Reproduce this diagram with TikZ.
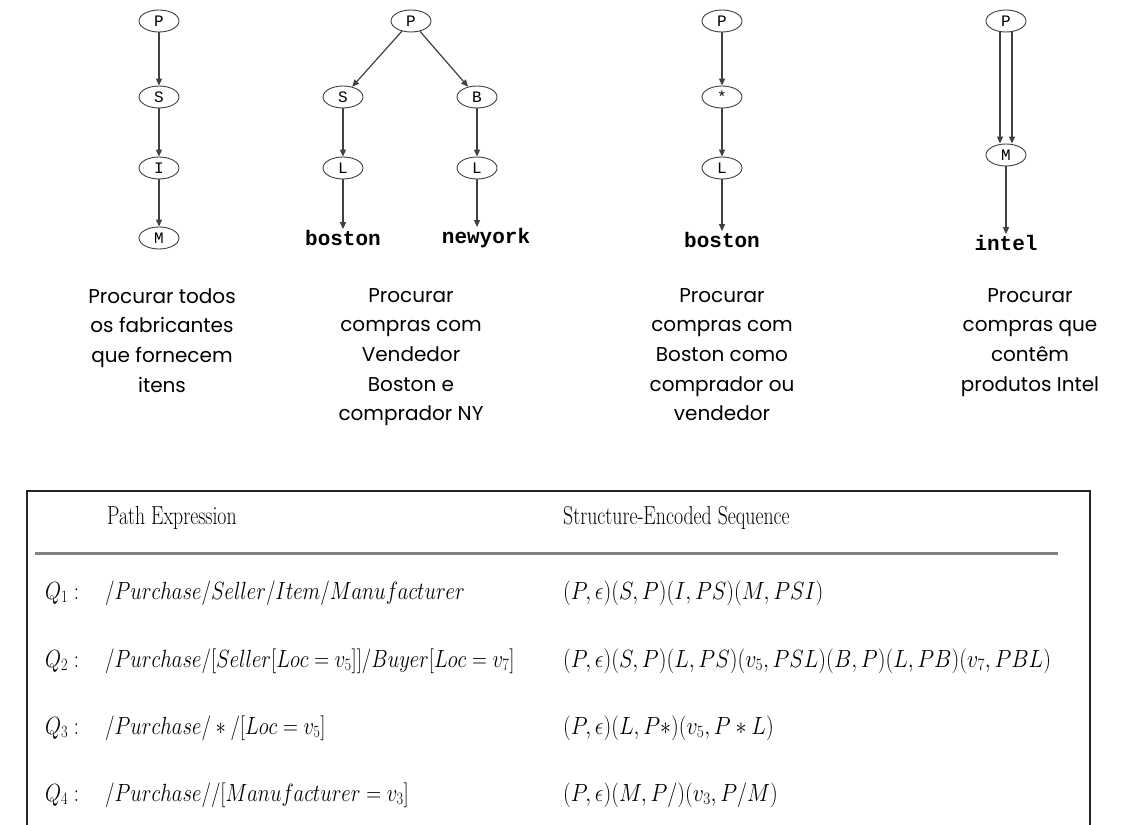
\documentclass[tikz,border=0pt]{standalone}
\usepackage{fontspec}
\usepackage{graphicx}
\usetikzlibrary{shapes.geometric,arrows.meta}
\newfontfamily\treefont{Liberation Mono}
\newfontfamily\capfont{Poppins}
\newcommand\headtext[1]{\scalebox{0.76}[1]{#1}}
\newcommand\pathtext[1]{\scalebox{0.83}[1]{#1}}
\newcommand\seqtext[1]{\scalebox{0.88}[1]{#1}}
\begin{document}
\begin{tikzpicture}[x=1pt,y=-1pt,
  vtx/.style={draw=black!75, line width=0.9pt, ellipse, minimum width=40pt,
    minimum height=22pt, inner sep=0pt, font=\treefont\fontsize{16}{16}\selectfont},
  leaf/.style={inner sep=1pt, font=\treefont\bfseries\fontsize{21}{21}\selectfont},
  edge/.style={draw=black!75, line width=1.2pt, -{Triangle[length=7pt,width=6pt]}},
  caption/.style={align=center, anchor=north, inner sep=0pt,
    font=\capfont\fontsize{20}{29.7}\selectfont},
  tab/.style={anchor=west, inner sep=0pt, font=\fontsize{26}{30}\selectfont}]
\useasboundingbox[fill=white] (0,0) rectangle (1126,824);

% query tree 1: P / S / I / M
\node[vtx] (a1) at (159,21) {P};
\node[vtx] (a2) at (159,97) {S};
\node[vtx] (a3) at (159,168) {I};
\node[vtx] (a4) at (159,238) {M};
\draw[edge] (a1) -- (a2);
\draw[edge] (a2) -- (a3);
\draw[edge] (a3) -- (a4);

% query tree 2: seller and buyer branches
\node[vtx] (b1) at (411,21) {P};
\node[vtx] (b2) at (343,97) {S};
\node[vtx] (b3) at (477,97) {B};
\node[vtx] (b4) at (343,168) {L};
\node[vtx] (b5) at (477,168) {L};
\node[leaf] (b6) at (343,238) {boston};
\node[leaf] (b7) at (486,238) {newyork};
\draw[edge] (b1) -- (b2);
\draw[edge] (b1) -- (b3);
\draw[edge] (b2) -- (b4);
\draw[edge] (b3) -- (b5);
\draw[edge] (b4) -- (b4 |- b6.north);
\draw[edge] (b5) -- (b5 |- b7.north);

% query tree 3: wildcard step
\node[vtx] (c1) at (722,21) {P};
\node[vtx] (c2) at (722,97) {*};
\node[vtx] (c3) at (722,168) {L};
\node[leaf] (c4) at (722,240) {boston};
\draw[edge] (c1) -- (c2);
\draw[edge] (c2) -- (c3);
\draw[edge] (c3) -- (c4);

% query tree 4: descendant axis drawn as a double arrow
\node[vtx] (d1) at (1006,21) {P};
\node[vtx] (d2) at (1006,155) {M};
\node[leaf] (d3) at (1006,243) {intel};
\draw[edge] ([xshift=-6pt]d1.south) -- ([xshift=-6pt]d2.north);
\draw[edge] ([xshift=6pt]d1.south) -- ([xshift=6pt]d2.north);
\draw[edge] (d2) -- (d3);

% descriptions
\node[caption] (t1) at (162,288) {Procurar todos\\os fabricantes\\que fornecem\\itens};
\node[caption] (t2) at (411,288) {Procurar\\compras com\\Vendedor\\Boston e\\comprador NY};
\node[caption] (t3) at (722,288) {Procurar\\compras com\\Boston como\\comprador ou\\vendedor};
\node[caption] (t4) at (1030,288) {Procurar\\compras que\\contêm\\produtos Intel};

% table frame and header rule
\draw[line width=1.8pt, black!85] (27,830) -- (27,491) -- (1090,491) -- (1090,830);
\draw[line width=3pt, black!50] (35,553) -- (1058,553);

\node[tab] (h1) at (107,518) {\headtext{Path Expression}};
\node[tab] (h2) at (563,518) {\headtext{Structure-Encoded Sequence}};

\node[tab] (q1) at (45,593) {\pathtext{$Q_1:$}};
\node[tab] (p1) at (105,593) {\pathtext{$/Purchase/Seller/Item/Manufacturer$}};
\node[tab] (s1) at (563,593) {\seqtext{$(P,\epsilon)(S,P)(I,PS)(M,PSI)$}};

\node[tab] (q2) at (45,661) {\pathtext{$Q_2:$}};
\node[tab] (p2) at (105,661) {\pathtext{$/Purchase/[Seller[Loc=v_5]]/Buyer[Loc=v_7]$}};
\node[tab] (s2) at (563,661) {\seqtext{$(P,\epsilon)(S,P)(L,PS)(v_5,PSL)(B,P)(L,PB)(v_7,PBL)$}};

\node[tab] (q3) at (45,728) {\pathtext{$Q_3:$}};
\node[tab] (p3) at (105,728) {\pathtext{$/Purchase/*/[Loc=v_5]$}};
\node[tab] (s3) at (563,728) {\seqtext{$(P,\epsilon)(L,P*)(v_5,P*L)$}};

\node[tab] (q4) at (45,795) {\pathtext{$Q_4:$}};
\node[tab] (p4) at (105,795) {\pathtext{$/Purchase//[Manufacturer=v_3]$}};
\node[tab] (s4) at (563,795) {\seqtext{$(P,\epsilon)(M,P/)(v_3,P/M)$}};
\end{tikzpicture}
\end{document}
